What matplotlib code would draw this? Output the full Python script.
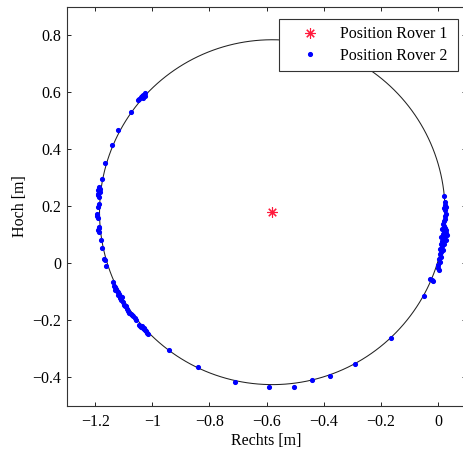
import matplotlib
matplotlib.use("Agg")
import matplotlib.pyplot as plt
import numpy as np

plt.rcParams['font.family'] = ['Liberation Serif', 'DejaVu Serif']
plt.rcParams['font.size'] = 11.5

# Data
rover1_x = [-0.58]
rover1_y = [0.18]

circle_center = (-0.58, 0.18)
circle_radius = 0.605

rover2_x = [
    -1.025, -1.032, -1.036, -1.040, -1.027, -1.046, -1.050, -1.034,
    -1.074, -1.120, -1.141,
    -1.165, -1.178, -1.186, -1.184, -1.190, -1.185, -1.189, -1.192, -1.187,
    -1.188, -1.192, -1.195, -1.194, -1.192, -1.188, -1.186, -1.190, -1.187,
    -1.180, -1.177, -1.171, -1.166, -1.164,
    -1.139, -1.134, -1.130, -1.127, -1.124, -1.131, -1.120, -1.118, -1.122,
    -1.114, -1.112, -1.108, -1.110, -1.104, -1.100, -1.096, -1.092, -1.090,
    -1.085, -1.080, -1.076, -1.072, -1.068, -1.062, -1.057, -1.046, -1.042,
    -1.038, -1.034, -1.030, -1.026, -1.022, -1.018, -1.014, -1.036, -1.028,
    -0.943, -0.839, -0.712, -0.593, -0.505, -0.440, -0.377, -0.291, -0.165,
    -0.049, -0.028, -0.022, -0.016,
    0.021, 0.024, 0.026, 0.028, 0.022, 0.025, 0.027, 0.024, 0.026, 0.022,
    0.018, 0.020, 0.025, 0.030, 0.015, 0.022, 0.028, 0.032, 0.018, 0.025,
    0.012, 0.020, 0.027, 0.016, 0.010, 0.022, 0.014, 0.008, 0.018, 0.012,
    0.006, 0.010, 0.004, 0.008, 0.002, 0.000, 0.005,
]
rover2_y = [
    0.598, 0.592, 0.588, 0.584, 0.589, 0.577, 0.572, 0.582,
    0.530, 0.470, 0.417,
    0.352, 0.298, 0.267, 0.262, 0.258, 0.252, 0.245, 0.240, 0.235,
    0.210, 0.198, 0.175, 0.165, 0.160, 0.128, 0.123, 0.118, 0.112,
    0.082, 0.055, 0.016, 0.013, -0.008,
    -0.065, -0.078, -0.082, -0.088, -0.095, -0.092, -0.100, -0.106, -0.110,
    -0.113, -0.120, -0.118, -0.128, -0.135, -0.145, -0.150, -0.148, -0.158,
    -0.165, -0.172, -0.178, -0.182, -0.186, -0.190, -0.198, -0.215, -0.220,
    -0.222, -0.226, -0.230, -0.234, -0.238, -0.243, -0.247, -0.218, -0.225,
    -0.304, -0.362, -0.415, -0.432, -0.432, -0.409, -0.395, -0.353, -0.263,
    -0.114, -0.056, -0.058, -0.061,
    0.236, 0.215, 0.204, 0.198, 0.193, 0.187, 0.175, 0.165, 0.156, 0.148,
    0.140, 0.130, 0.124, 0.118, 0.120, 0.112, 0.108, 0.100, 0.105, 0.096,
    0.092, 0.088, 0.082, 0.078, 0.070, 0.068, 0.060, 0.052, 0.048, 0.040,
    0.032, 0.024, 0.015, 0.005, -0.005, -0.015, -0.022,
]

xticks = [-1.2, -1.0, -0.8, -0.6, -0.4, -0.2, 0.0]
xticklabels = ['\u22121.2', '\u22121', '\u22120.8', '\u22120.6', '\u22120.4', '\u22120.2', '0']
yticks = [-0.4, -0.2, 0.0, 0.2, 0.4, 0.6, 0.8]
yticklabels = ['\u22120.4', '\u22120.2', '0', '0.2', '0.4', '0.6', '0.8']

fig = plt.figure(figsize=(4.63, 4.5), dpi=100)
ax = fig.add_axes([0.144, 0.0978, 0.8635, 0.8867])

t = np.linspace(0, 2 * np.pi, 400)
ax.plot(circle_center[0] + circle_radius * np.cos(t),
        circle_center[1] + circle_radius * np.sin(t),
        color='#222222', lw=0.75, zorder=1)

ax.plot(rover1_x, rover1_y, linestyle='none', marker=(8, 2, 0), markersize=7.5,
        color='#ff1a3c', mew=0.8, label='Position Rover 1', zorder=3)
ax.plot(rover2_x, rover2_y, linestyle='none', marker='o', markersize=2.7,
        color='#0000ff', mec='#0000ff', label='Position Rover 2', zorder=2)

ax.set_xlim(-1.3, 0.1)
ax.set_ylim(-0.5, 0.9)
ax.set_xticks(xticks)
ax.set_xticklabels(xticklabels, fontfamily='Liberation Serif')
ax.set_yticks(yticks)
ax.set_yticklabels(yticklabels, fontfamily='Liberation Serif')
ax.tick_params(direction='in', length=3, width=0.6, top=True, right=True,
               labelsize=11.5)
ax.tick_params(axis='x', pad=6)
ax.tick_params(axis='y', pad=4)
for s in ax.spines.values():
    s.set_linewidth(0.8)
    s.set_color('#333333')

ax.set_xlabel('Rechts [m]', fontsize=11.5, labelpad=2)
ax.set_ylabel('Hoch [m]', fontsize=11.5, labelpad=3)

leg = ax.legend(loc='upper left', bbox_to_anchor=(0.531, 0.8446, 0.448, 0.1254),
                mode='expand', borderaxespad=0,
                fancybox=False, edgecolor='#333333', framealpha=1,
                handlelength=3.0, handletextpad=0.35, borderpad=0.45,
                labelspacing=0.34, fontsize=11.5)
leg.get_frame().set_linewidth(0.8)

fig.savefig('out.png', dpi=100)
